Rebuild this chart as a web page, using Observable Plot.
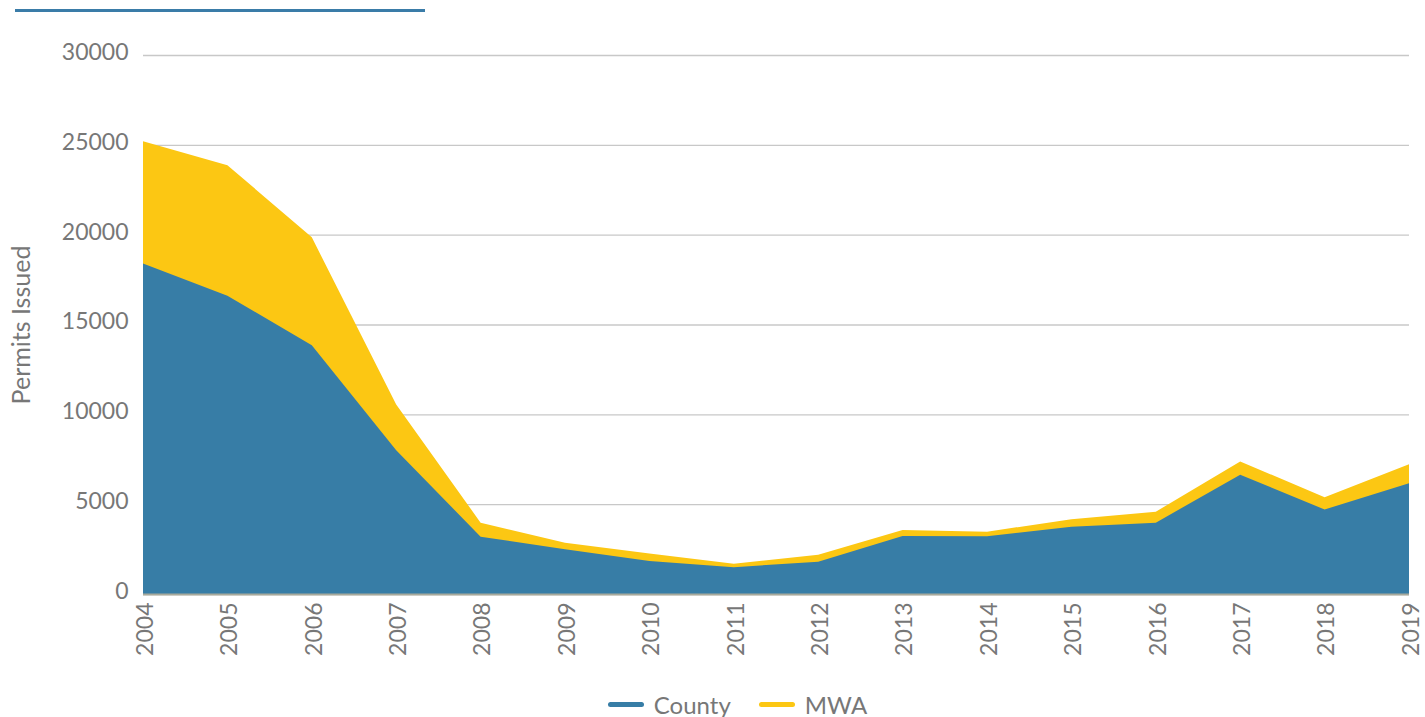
<!DOCTYPE html>
<html>
<head>
<meta charset="utf-8">
<script src="https://cdn.jsdelivr.net/npm/d3@7"></script>
<script src="https://cdn.jsdelivr.net/npm/@observablehq/plot@0.6"></script>
<style>
  html, body { margin: 0; padding: 0; background: #fff; }
  body { width: 1425px; height: 717px; position: relative; overflow: hidden; font-family: Lato, "Open Sans", sans-serif; }
  #topline { position: absolute; left: 15px; top: 9px; width: 410px; height: 3px; background: #3a7ca8; }
  #ylabel { position: absolute; left: 20px; top: 325px; transform: translate(-50%, -50%) rotate(-90deg); color: #777; font-size: 25px; white-space: nowrap; }
  #chart { position: absolute; left: 0; top: 0; }
  #legend { position: absolute; top: 690px; left: 0; width: 1425px; display: flex; justify-content: center; gap: 28px; font-size: 24px; color: #777; padding-left: 50px; box-sizing: border-box; }
  .item { display: flex; align-items: center; gap: 10px; }
  .sw { width: 36px; height: 5px; border-radius: 3px; }
</style>
</head>
<body>
<div id="topline"></div>
<div id="chart"></div>
<div id="ylabel">Permits Issued</div>
<div id="legend"></div>
<script>
const years = [2004, 2005, 2006, 2007, 2008, 2009, 2010, 2011, 2012, 2013, 2014, 2015, 2016, 2017, 2018, 2019];
const county = [18400, 16600, 13850, 8000, 3190, 2490, 1840, 1490, 1800, 3230, 3210, 3750, 3970, 6640, 4710, 6160];
const mwa = [25200, 23870, 19850, 10550, 3970, 2850, 2260, 1690, 2190, 3560, 3470, 4160, 4580, 7380, 5380, 7220];
const yTicks = [0, 5000, 10000, 15000, 20000, 25000, 30000];
const seriesNames = ["County", "MWA"];
const seriesColors = ["#377da6", "#fcc713"];

const data = years.map((year, i) => ({year, county: county[i], mwa: mwa[i]}));

const chart = Plot.plot({
  width: 1425,
  height: 680,
  marginTop: 55,
  marginBottom: 86,
  marginLeft: 143,
  marginRight: 16,
  style: {fontFamily: "Lato, 'Open Sans', sans-serif", fontSize: "23px", color: "#777", background: "transparent"},
  x: {domain: [2004, 2019], label: null},
  y: {domain: [0, 30000], label: null},
  marks: [
    Plot.gridY(yTicks, {stroke: "#c8c8c8", strokeOpacity: 1, strokeWidth: 1.3}),
    Plot.areaY(data, {x: "year", y1: 0, y2: "mwa", fill: seriesColors[1]}),
    Plot.areaY(data, {x: "year", y1: 0, y2: "county", fill: seriesColors[0]}),
    Plot.ruleY([0], {stroke: "#a8aa9c", strokeWidth: 2}),
    Plot.axisY({ticks: yTicks, tickSize: 0, tickPadding: 15, dy: -3, tickFormat: d => String(d), label: null, fill: "#777"}),
    Plot.axisX({ticks: years, tickSize: 0, tickPadding: 8, dx: 2, tickRotate: -90, tickFormat: d => String(d), label: null, fill: "#777"})
  ]
});
document.getElementById("chart").appendChild(chart);

const legend = document.getElementById("legend");
seriesNames.forEach((name, i) => {
  const item = document.createElement("div");
  item.className = "item";
  const sw = document.createElement("div");
  sw.className = "sw";
  sw.style.background = seriesColors[i];
  const t = document.createElement("span");
  t.textContent = name;
  item.appendChild(sw);
  item.appendChild(t);
  legend.appendChild(item);
});
</script>
</body>
</html>
